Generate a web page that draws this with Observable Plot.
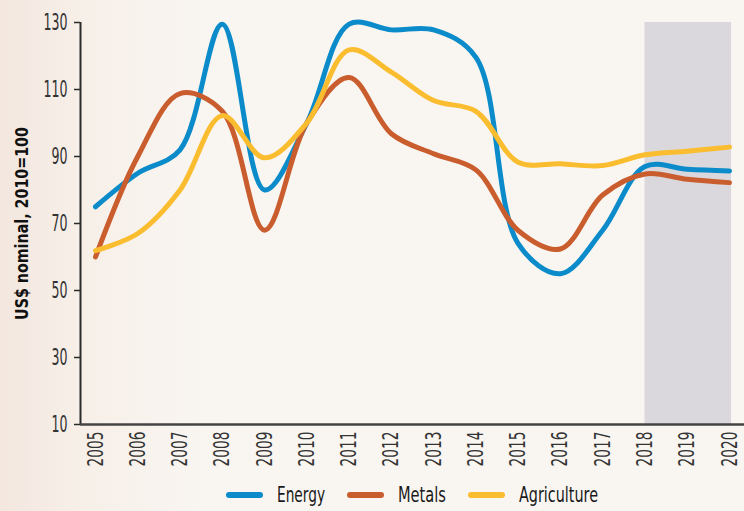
<!DOCTYPE html>
<html>
<head>
<meta charset="utf-8">
<script src="https://cdn.jsdelivr.net/npm/d3@7"></script>
<script src="https://cdn.jsdelivr.net/npm/@observablehq/plot@0.6"></script>
<style>
  html, body { margin: 0; padding: 0; }
  body {
    width: 744px; height: 511px; overflow: hidden;
    background: linear-gradient(to right, #f3e7df 0%, #f7f0e9 12%, #f9f6f2 30%, #f9f6f2 100%);
    font-family: "DejaVu Sans Condensed", "DejaVu Sans", sans-serif;
  }
  #chart svg { display: block; background: transparent; }
  #legend {
    display: flex; justify-content: flex-start; align-items: center;
    height: 33px; padding-left: 226px; font-size: 22px; color: #1a1a1a;
    white-space: nowrap;
  }
  .sw { width: 37px; height: 6px; border-radius: 3px; margin-right: 14px; flex: none; }
  .lab { margin-right: 22px; display: inline-block; transform-origin: left center; flex: none; }
  #measure { position: absolute; left: 0; top: 0; visibility: hidden; white-space: nowrap; }
</style>
</head>
<body>
<div id="chart"></div>
<div id="legend"></div>
<span id="measure"></span>
<script>
const years = [2005, 2006, 2007, 2008, 2009, 2010, 2011, 2012, 2013, 2014, 2015, 2016, 2017, 2018, 2019, 2020];
const energy      = [75, 85, 92, 129.5, 80, 100, 129.5, 127.8, 127.8, 119.6, 64, 55, 68, 87, 86.2, 85.7];
const metals      = [60, 90, 108.8, 103.5, 68, 100, 113.6, 96.8, 90.8, 86, 67.9, 62.4, 78.5, 84.8, 83.2, 82.2];
const agriculture = [61.9, 67, 80, 102.2, 89.6, 100, 121.8, 115.2, 106.7, 103.5, 88.3, 87.8, 87.3, 90.5, 91.6, 92.8];
const seriesNames = ["Energy", "Metals", "Agriculture"];
const seriesColors = ["#0b8bc9", "#c95d2e", "#fbbd30"];
const yTicks = [10, 30, 50, 70, 90, 110, 130];
const forecastRange = [2018, 2020.05];
const yLabel = "US$ nominal, 2010=100";

const allValues = [energy, metals, agriculture];
const rows = [];
seriesNames.forEach((name, i) => {
  years.forEach((yr, j) => rows.push({series: name, year: yr, value: allValues[i][j]}));
});

const xDomain = [2004.645, 2020.355];
const FONT = '"DejaVu Sans Condensed", "DejaVu Sans", sans-serif';

const chart = Plot.plot({
  width: 744,
  height: 478,
  marginLeft: 80,
  marginRight: 0,
  marginTop: 22,
  marginBottom: 54,
  style: {fontFamily: FONT, background: "transparent"},
  x: {domain: xDomain},
  y: {domain: [10, 130]},
  color: {domain: seriesNames, range: seriesColors},
  marks: [
    Plot.rect([{x1: forecastRange[0], x2: forecastRange[1]}], {x1: "x1", x2: "x2", y1: 10, y2: 130, fill: "#dad8dc"}),
    Plot.line(rows, {x: "year", y: "value", stroke: "series", curve: "catmull-rom", strokeWidth: 5, strokeLinecap: "round"}),
    Plot.ruleX([xDomain[0]], {y1: 10, y2: 130, stroke: "#2b2b2b", strokeWidth: 2}),
    Plot.ruleY([10], {stroke: "#444", strokeWidth: 2.5}),
    Plot.axisY({ticks: yTicks, tickSize: 6, tickPadding: 7, fontSize: 23, stroke: "#2b2b2b", strokeWidth: 1.5, fill: "#333", label: null}),
    Plot.axisX({ticks: years, tickFormat: d => String(d), tickRotate: -90, tickSize: 0, tickPadding: 7, fontSize: 22, fill: "#333", label: null}),
    Plot.text([yLabel], {frameAnchor: "left", dx: -58, rotate: -90, textAnchor: "middle", fontSize: 18, fontWeight: "bold", fill: "#111", text: d => d})
  ]
});
document.getElementById("chart").appendChild(chart);

const meas = document.getElementById("measure");
function measure(txt, size, weight) {
  meas.style.fontFamily = FONT;
  meas.style.fontSize = size + "px";
  meas.style.fontWeight = weight || "normal";
  meas.textContent = txt;
  return meas.getBoundingClientRect().width;
}

// condense text horizontally to mimic the narrow typeface of the original
function condense(els, refText, size, weight, target) {
  const w = measure(refText, size, weight);
  if (!(w > 0)) return;
  const k = target / w;
  els.forEach(e => {
    const tr = e.getAttribute("transform") || "";
    e.setAttribute("transform", `${tr} scale(${k.toFixed(4)},1)`);
  });
}
const allText = Array.from(chart.querySelectorAll("text"));
const yTickTexts = allText.filter(e => yTicks.map(String).includes(e.textContent));
const xTickTexts = allText.filter(e => years.map(String).includes(e.textContent));
const yLabelTexts = allText.filter(e => e.textContent === yLabel);
condense(yTickTexts, "130", 23, "normal", 24);
condense(xTickTexts, "2005", 22, "normal", 35);
condense(yLabelTexts, yLabel, 18, "bold", 193);

const legend = document.getElementById("legend");
const labelWidths = [48, 48, 79];
seriesNames.forEach((name, i) => {
  const sw = document.createElement("div");
  sw.className = "sw";
  sw.style.background = seriesColors[i];
  const lab = document.createElement("span");
  lab.className = "lab";
  lab.textContent = name;
  legend.appendChild(sw);
  legend.appendChild(lab);
  const w = lab.getBoundingClientRect().width;
  const k = labelWidths[i] / w;
  lab.style.width = labelWidths[i] + "px";
  lab.style.transform = `scaleX(${k})`;
});
</script>
</body>
</html>
